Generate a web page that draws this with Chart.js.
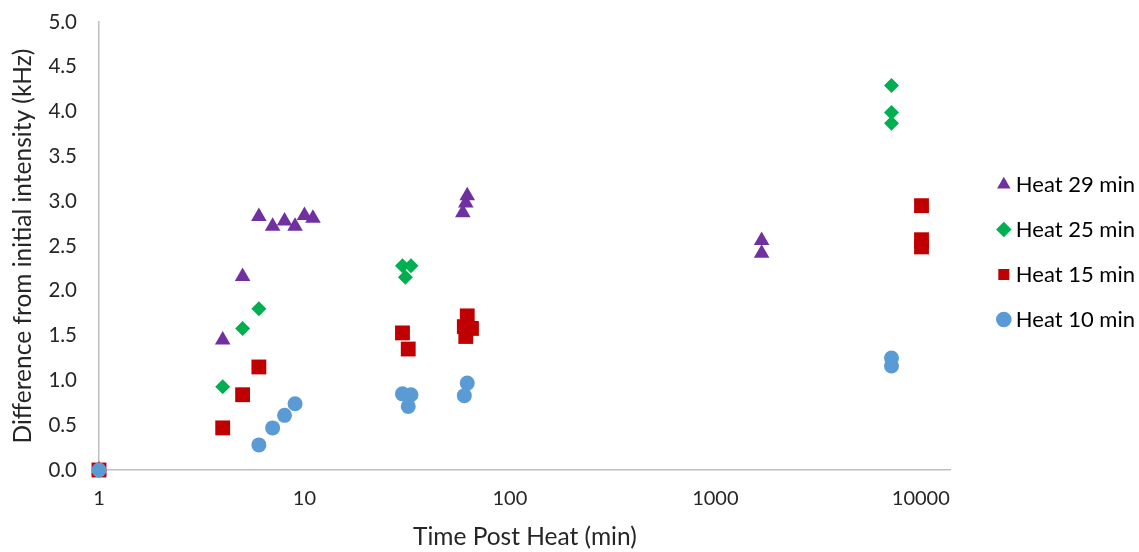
<!DOCTYPE html>
<html>
<head>
<meta charset="utf-8">
<script src="https://cdn.jsdelivr.net/npm/chart.js@4/dist/chart.umd.min.js"></script>
<style>
    body { margin: 0; background: #ffffff; }
    #grafico { width: 1139px; height: 552px; }
</style>
</head>
<body>
<div id="grafico"><canvas id="myChart" width="1139" height="552"></canvas></div>
<script>
// Dados (tempo em minutos, diferença em kHz)
var tempo29 = [1, 4, 5, 6, 7, 8, 9, 10, 11, 59, 61, 62, 1680, 1680];
var valor29 = [0, 1.45, 2.16, 2.83, 2.72, 2.78, 2.72, 2.84, 2.81, 2.87, 2.98, 3.06, 2.56, 2.42];

var tempo25 = [1, 4, 5, 6, 30, 33, 31, 7200, 7200, 7200];
var valor25 = [0, 0.93, 1.58, 1.80, 2.28, 2.28, 2.15, 4.29, 3.99, 3.87];

var tempo15 = [1, 4, 5, 6, 30, 32, 60, 62, 65, 61, 10080, 10080, 10080];
var valor15 = [0, 0.47, 0.84, 1.15, 1.53, 1.35, 1.60, 1.72, 1.58, 1.49, 2.95, 2.57, 2.49];

var tempo10 = [1, 6, 7, 8, 9, 30, 33, 32, 62, 60, 7200, 7200];
var valor10 = [0, 0.28, 0.47, 0.61, 0.74, 0.85, 0.84, 0.71, 0.97, 0.83, 1.25, 1.16];

var series = ['Heat 29 min', 'Heat 25 min', 'Heat 15 min', 'Heat 10 min'];
var ticksX = [1, 10, 100, 1000, 10000];
var ticksY = [0, 0.5, 1, 1.5, 2, 2.5, 3, 3.5, 4, 4.5, 5];

// junta x e y em pontos para o scatter
function montarPontos(xs, ys) {
    var pontos = [];
    for (let i = 0; i < xs.length; i++) {
        pontos.push({ x: xs[i], y: ys[i] });
    }
    return pontos;
}

// empurra a legenda um pouco para a direita e para cima (como no Excel)
const afastarLegenda = {
    id: 'afastarLegenda',
    afterLayout(chart) {
        var legenda = chart.legend;
        var dx = 29;
        var dy = -35;
        legenda.left += dx;
        legenda.right += dx;
        legenda.top += dy;
        legenda.bottom += dy;
    }
};

let dados = {
    datasets: [{
        label: series[0],
        data: montarPontos(tempo29, valor29),
        pointStyle: 'triangle',
        pointRadius: 9,
        backgroundColor: '#7030A0',
        borderColor: '#7030A0',
        borderWidth: 0,
        clip: false,
        order: 4
    }, {
        label: series[1],
        data: montarPontos(tempo25, valor25),
        pointStyle: 'rectRot',
        pointRadius: 7.5,
        backgroundColor: '#00B050',
        borderColor: '#00B050',
        borderWidth: 0,
        clip: false,
        order: 3
    }, {
        label: series[2],
        data: montarPontos(tempo15, valor15),
        pointStyle: 'rect',
        pointRadius: 10.5,
        backgroundColor: '#C00000',
        borderColor: '#C00000',
        borderWidth: 0,
        clip: false,
        order: 2
    }, {
        label: series[3],
        data: montarPontos(tempo10, valor10),
        pointStyle: 'circle',
        pointRadius: 7.5,
        backgroundColor: '#5B9BD5',
        borderColor: '#5B9BD5',
        borderWidth: 0,
        clip: false,
        order: 1
    }]
};

const config = {
    type: 'scatter',
    data: dados,
    plugins: [afastarLegenda],
    options: {
        responsive: false,
        animation: false,
        layout: {
            padding: { left: 0, right: 23, top: 22, bottom: 0 }
        },
        scales: {
            x: {
                type: 'logarithmic',
                min: 1,
                max: 14000,
                afterBuildTicks: function (escala) {
                    escala.ticks = ticksX.map(function (v) { return { value: v }; });
                },
                afterFit: function (escala) {
                    escala.height = 82;
                },
                grid: { display: false, drawTicks: false },
                border: { display: true, color: '#BFBFBF', width: 1.5 },
                ticks: {
                    padding: 17,
                    color: '#262626',
                    font: { family: 'Lato', size: 20 },
                    callback: function (valor) { return String(valor); }
                },
                title: {
                    display: true,
                    text: 'Time Post Heat (min)',
                    color: '#262626',
                    font: { family: 'Lato', size: 24.5 },
                    padding: { top: 0, bottom: 0 }
                }
            },
            y: {
                min: 0,
                max: 5,
                afterBuildTicks: function (escala) {
                    escala.ticks = ticksY.map(function (v) { return { value: v }; });
                },
                afterFit: function (escala) {
                    // largura fixa e sem a folga extra que o padding dos ticks cria no topo
                    escala.width = 99;
                    escala.paddingTop = 10;
                    escala.paddingBottom = 10;
                },
                grid: { display: false, drawTicks: false },
                border: { display: true, color: '#BFBFBF', width: 1.5 },
                ticks: {
                    padding: 22,
                    color: '#262626',
                    font: { family: 'Lato', size: 20.5 },
                    callback: function (valor) { return Number(valor).toFixed(1); }
                },
                title: {
                    display: true,
                    text: 'Difference from initial intensity (kHz)',
                    color: '#262626',
                    font: { family: 'Lato', size: 24.5 },
                    padding: { top: 8, bottom: 0 }
                }
            }
        },
        plugins: {
            tooltip: { enabled: false },
            legend: {
                position: 'right',
                labels: {
                    usePointStyle: true,
                    boxWidth: 2,
                    boxHeight: 11,
                    padding: 23,
                    color: '#000000',
                    font: { family: 'Lato', size: 22 },
                    sort: function (a, b) { return a.datasetIndex - b.datasetIndex; }
                }
            }
        }
    }
};

// Adicionando gráfico criado na tela
let myChart = new Chart(
    document.getElementById('myChart'),
    config
);
</script>
</body>
</html>
